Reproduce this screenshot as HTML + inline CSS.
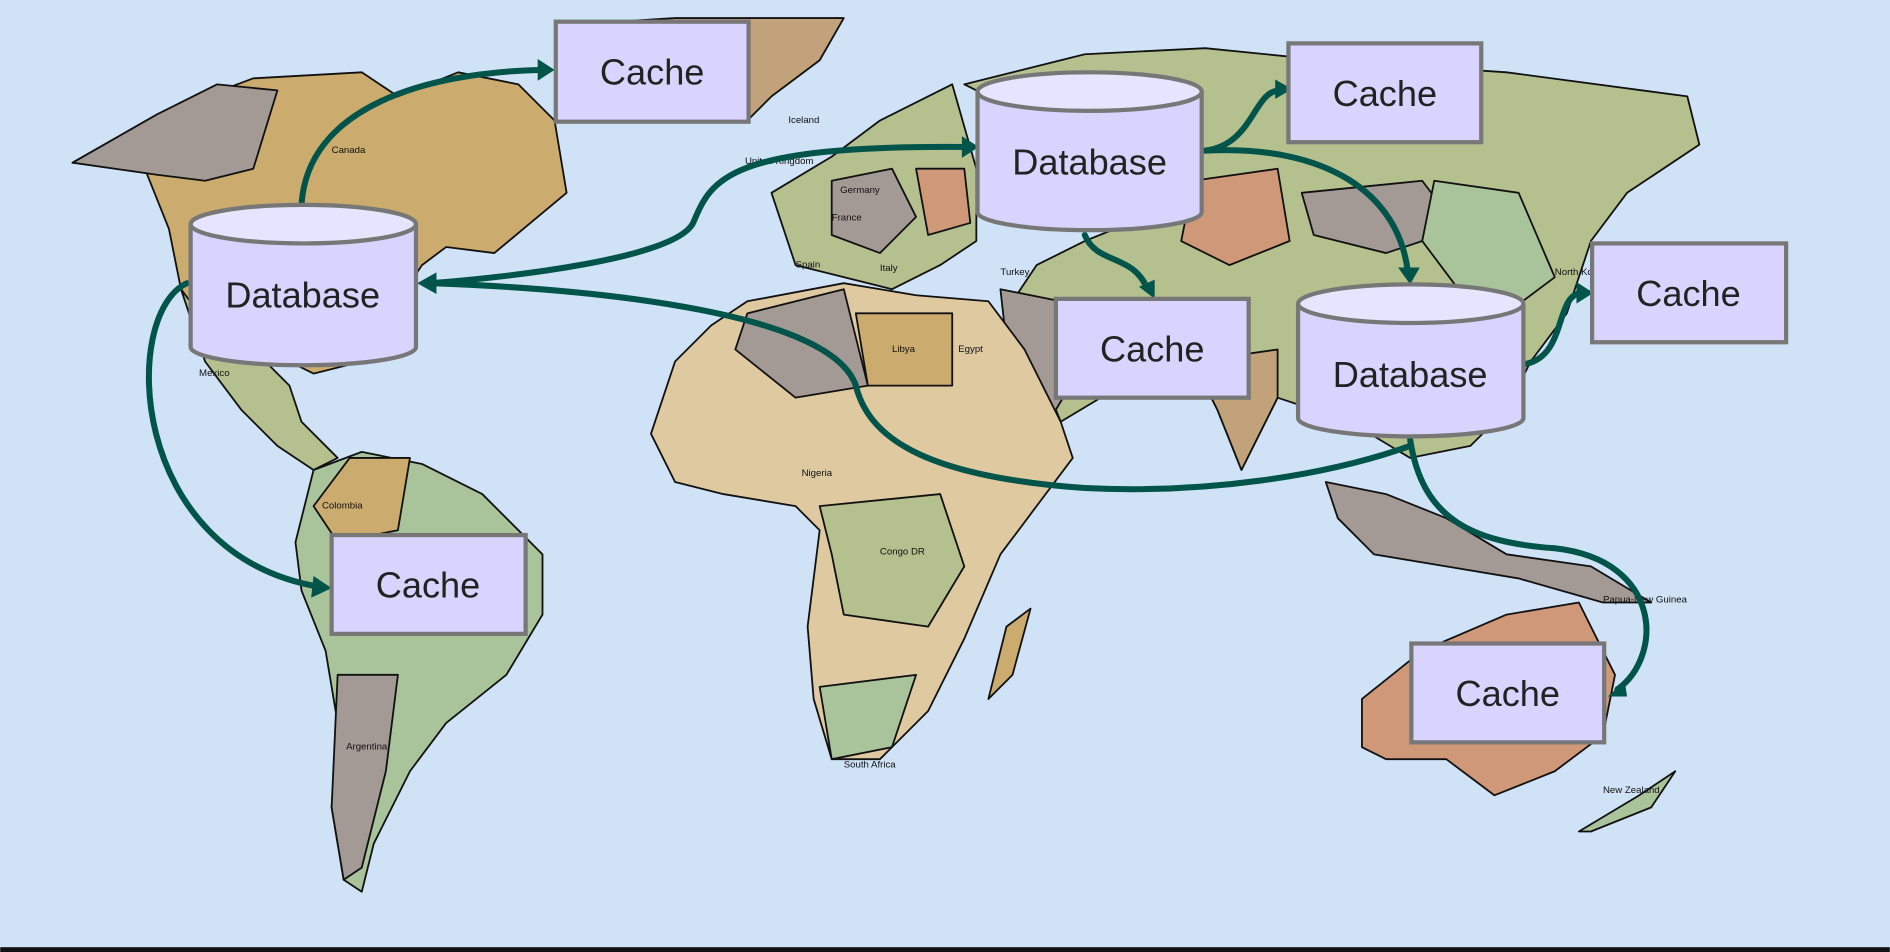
<!DOCTYPE html>
<html><head><style>
html,body{margin:0;padding:0;background:#cfe2f6;}
svg{display:block}
text{font-family:"Liberation Sans",sans-serif;}
</style></head><body>
<svg width="1890" height="952" viewBox="0 0 1568 790" xmlns="http://www.w3.org/2000/svg">
<rect width="1568" height="790" fill="#cfe2f6"/>
<g stroke="#111" stroke-width="1.5" stroke-linejoin="round">
<!-- North America -->
<path d="M60,135 L130,95 L210,65 L300,60 L330,80 L380,60 L430,70 L460,100 L470,160 L440,185 L410,210 L370,205 L350,220 L330,250 L300,300 L260,310 L240,300 L200,290 L170,270 L150,240 L140,190 L120,140 Z" fill="#cbab6e"/>
<path d="M60,135 L130,95 L180,70 L230,75 L210,140 L170,150 L130,145 Z" fill="#a39a95"/>
<path d="M150,240 L170,300 L200,340 L230,370 L260,390 L280,380 L250,350 L240,320 L220,300 L180,280 Z" fill="#b5c08f"/>
<path d="M480,20 L560,15 L700,15 L680,50 L640,80 L620,100 L590,90 L560,70 L500,50 Z" fill="#c2a27a"/>
<!-- South America -->
<path d="M260,390 L300,375 L350,385 L400,410 L450,460 L450,510 L420,560 L370,600 L340,640 L310,700 L300,740 L285,730 L275,670 L280,600 L270,540 L250,490 L245,450 Z" fill="#a9c49a"/>
<path d="M290,380 L340,380 L330,440 L280,450 L260,420 Z" fill="#cbab6e"/>
<path d="M280,560 L330,560 L320,640 L300,720 L285,730 L275,670 Z" fill="#a39a95"/>
<!-- Europe -->
<path d="M640,160 L690,130 L730,100 L790,70 L810,140 L810,200 L780,220 L740,240 L700,230 L660,220 L650,190 Z" fill="#b5c08f"/>
<path d="M690,150 L740,140 L760,180 L730,210 L690,195 Z" fill="#a39a95"/>
<path d="M760,140 L800,140 L805,185 L770,195 Z" fill="#cf9878"/>
<!-- Asia -->
<path d="M800,70 L900,45 L1000,40 L1100,50 L1250,60 L1400,80 L1410,120 L1350,160 L1320,200 L1300,260 L1270,300 L1250,340 L1220,370 L1170,380 L1120,350 L1060,330 L1030,390 L1010,340 L990,300 L930,320 L880,350 L860,300 L840,250 L860,220 L900,200 L950,180 L1000,170 Z" fill="#b5c08f"/>
<path d="M990,150 L1060,140 L1070,200 L1020,220 L980,200 Z" fill="#cf9878"/>
<path d="M1080,160 L1180,150 L1210,190 L1150,210 L1090,195 Z" fill="#a39a95"/>
<path d="M1190,150 L1260,160 L1290,230 L1250,260 L1210,240 L1180,200 Z" fill="#a9c49a"/>
<path d="M990,300 L1060,290 L1060,330 L1030,390 L1010,340 Z" fill="#c2a27a"/>
<path d="M830,240 L880,250 L900,300 L870,350 L840,330 Z" fill="#a39a95"/>
<!-- SE Asia islands -->
<path d="M1100,400 L1150,410 L1200,430 L1250,460 L1320,470 L1370,500 L1330,500 L1260,480 L1200,470 L1140,460 L1110,430 Z" fill="#a39a95"/>
<!-- Africa -->
<path d="M620,250 L700,235 L760,245 L820,250 L850,290 L880,350 L890,380 L860,420 L830,460 L800,530 L770,590 L730,630 L690,630 L675,580 L670,520 L680,440 L660,420 L600,410 L560,400 L540,360 L560,300 L590,270 Z" fill="#dfc9a0"/>
<path d="M620,260 L700,240 L720,320 L660,330 L610,290 Z" fill="#a39a95"/>
<path d="M710,260 L790,260 L790,320 L720,320 Z" fill="#cbab6e"/>
<path d="M680,420 L780,410 L800,470 L770,520 L700,510 L690,460 Z" fill="#b5c08f"/>
<path d="M680,570 L760,560 L740,620 L690,630 Z" fill="#a9c49a"/>
<path d="M835,520 L855,505 L840,560 L820,580 Z" fill="#cbab6e"/>
<!-- Australia -->
<path d="M1130,580 L1180,540 L1250,510 L1310,500 L1340,560 L1330,610 L1290,640 L1240,660 L1200,630 L1150,630 L1130,620 Z" fill="#cf9878"/>
<path d="M1310,690 L1360,660 L1390,640 L1370,670 L1320,690 Z" fill="#a9c49a"/>
</g>
<g fill="#111" font-size="8" font-family="Liberation Sans">
<text x="275" y="127">Canada</text><text x="165" y="312">Mexico</text><text x="654" y="102">Iceland</text>
<text x="618" y="136">United Kingdom</text><text x="697" y="160">Germany</text><text x="690" y="183">France</text>
<text x="660" y="222">Spain</text><text x="730" y="225">Italy</text><text x="740" y="292">Libya</text><text x="795" y="292">Egypt</text>
<text x="665" y="395">Nigeria</text><text x="730" y="460">Congo DR</text><text x="700" y="637">South Africa</text>
<text x="1290" y="228">North Korea</text><text x="1330" y="500">Papua-New Guinea</text><text x="1330" y="658">New Zealand</text>
<text x="287" y="622">Argentina</text><text x="267" y="422">Colombia</text><text x="830" y="228">Turkey</text>
</g>
<g fill="none" stroke="#00544a" stroke-width="5" stroke-linecap="round">
<path d="M250,170 C255,90 350,60 450,58"/>
<path d="M155,235 C100,260 105,460 265,487"/>
<path d="M803,122 C600,120 590,150 575,185 C560,215 420,230 358,235"/>
<path d="M1170,370 C1100,395 1000,410 900,405 C760,395 720,360 710,320 C690,260 500,240 358,235"/>
<path d="M1000,125 C1040,120 1040,75 1062,75"/>
<path d="M1000,125 C1100,120 1160,160 1168,225"/>
<path d="M900,195 C910,220 940,210 952,240"/>
<path d="M1266,302 C1300,295 1290,245 1312,243"/>
<path d="M1170,365 C1180,430 1220,450 1290,455 C1380,465 1380,545 1342,572"/>
</g>
<g fill="#00544a">
<polygon points="460,58 446,49 446,67"/>
<polygon points="275,488 260,478 258,496"/>
<polygon points="812,122 798,113 798,131"/>
<polygon points="346,235 362,226 362,244"/>
<polygon points="1072,74 1058,66 1058,82"/>
<polygon points="1170,236 1160,222 1178,222"/>
<polygon points="958,248 945,238 958,232"/>
<polygon points="1322,243 1308,234 1308,252"/>
<polygon points="1334,578 1348,565 1350,578"/>
</g>
<g stroke="#777" stroke-width="3.5" font-size="30" text-anchor="middle">
<rect x="461" y="18" width="160" height="83" fill="#d8d4ff"/>
<rect x="1069" y="36" width="160" height="82" fill="#d8d4ff"/>
<rect x="1321" y="202" width="161" height="82" fill="#d8d4ff"/>
<rect x="876" y="248" width="160" height="82" fill="#d8d4ff"/>
<rect x="275" y="444" width="161" height="82" fill="#d8d4ff"/>
<rect x="1171" y="534" width="160" height="82" fill="#d8d4ff"/>
<!-- cylinders -->
<path d="M158,186 L158,288 A93,15 0 0 0 345,288 L345,186" fill="#d8d4ff"/>
<ellipse cx="251.5" cy="186" rx="93.5" ry="16" fill="#e6e4ff"/>
<path d="M811,76 L811,176 A93,15 0 0 0 997,176 L997,76" fill="#d8d4ff"/>
<ellipse cx="904" cy="76" rx="93" ry="16" fill="#e6e4ff"/>
<path d="M1077,252 L1077,347 A93,15 0 0 0 1264,347 L1264,252" fill="#d8d4ff"/>
<ellipse cx="1170.5" cy="252" rx="93.5" ry="16" fill="#e6e4ff"/>
</g>
<g fill="#222" font-size="30" text-anchor="middle" font-family="Liberation Sans">
<text x="541" y="70">Cache</text><text x="1149" y="88">Cache</text><text x="1401" y="254">Cache</text>
<text x="956" y="300">Cache</text><text x="355" y="496">Cache</text><text x="1251" y="586">Cache</text>
<text x="251" y="255">Database</text><text x="904" y="145">Database</text><text x="1170" y="321">Database</text>
</g>
<rect x="0" y="786" width="1568" height="4" fill="#111"/>
</svg>
</body></html>
